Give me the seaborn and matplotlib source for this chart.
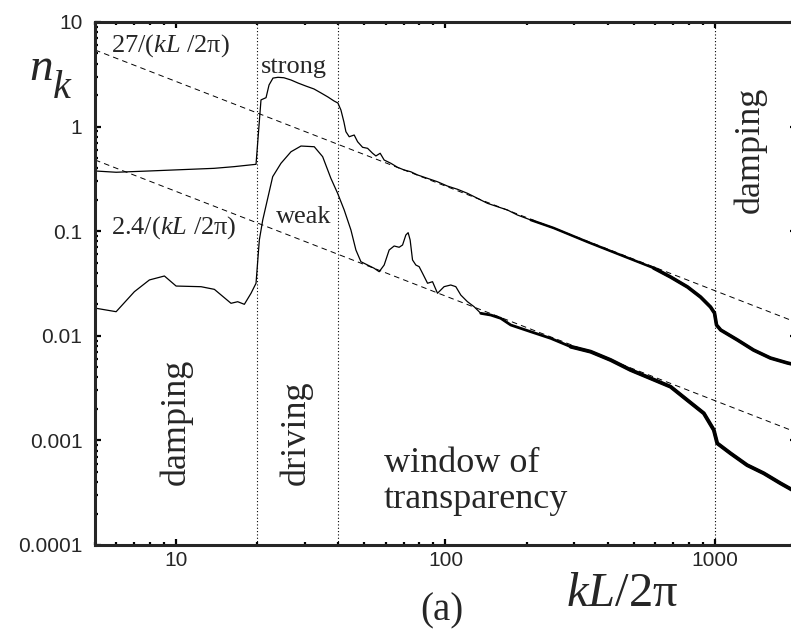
import numpy as np
import pandas as pd
import matplotlib
matplotlib.use("Agg")
import matplotlib.pyplot as plt
from matplotlib.ticker import LogLocator, NullFormatter, FixedLocator, FixedFormatter
import seaborn as sns

# ---------------- data ----------------
strong_k = [5.05, 5.99, 7.85, 13.83, 16.4, 19.8, 20.66, 21.57, 22.13, 22.89, 23.89, 25.14,
            26.70, 28.34, 30.34, 32.49, 34.48, 36.60, 38.53, 39.87, 40.91, 41.97, 42.69,
            43.91, 45.82, 47.17, 49.23, 51.38, 53.62, 55.16, 57.22, 59.20, 62.69, 66.37,
            70.22, 74.35, 78.73, 85.77, 93.39, 101.7, 110.8, 120.6, 131.4, 143.1, 155.9,
            169.8, 184.9, 207.2, 252.1, 337.1, 446.7, 592.0, 684.5, 791.4, 884.4, 963.2,
            996.6, 1014, 1051, 1213, 1391, 1607, 1858, 2000]
strong_n = [0.376, 0.366, 0.376, 0.399, 0.414, 0.436, 1.80, 1.89, 2.50, 2.91, 2.96, 2.93,
            2.79, 2.61, 2.44, 2.29, 2.10, 1.92, 1.76, 1.68, 1.44, 1.107, 0.894,
            0.80, 0.831, 0.717, 0.634, 0.620, 0.556, 0.524, 0.556, 0.479, 0.446, 0.408,
            0.385, 0.370, 0.345, 0.320, 0.297, 0.270, 0.2516, 0.2303, 0.2063, 0.1848, 0.1715,
            0.1595, 0.1428, 0.128, 0.1073, 0.0788, 0.0592, 0.0445, 0.0365, 0.0293, 0.0235, 0.01885,
            0.0165, 0.01268, 0.01136, 0.00912, 0.00731, 0.00613, 0.00550, 0.00526]

weak_k = [5.05, 5.99, 7.00, 7.96, 9.05, 10.0, 12.38, 13.87, 15.99, 16.93, 17.92, 18.97,
          19.80, 20.37, 20.97, 22.83, 24.51, 26.70, 29.08, 32.57, 34.99, 37.55, 39.78,
          42.07, 44.56, 46.50, 48.53, 51.38, 54.37, 56.74, 59.20, 61.78, 64.47, 67.30,
          69.28, 71.26, 72.67, 73.92, 75.44, 77.61, 79.83, 82.18, 85.77, 89.51, 93.39,
          98.81, 104.6, 109.2, 114.0, 120.6, 127.7, 135.2, 147.2, 160.3, 174.7, 207.2,
          245.7, 291.5, 345.7, 410.2, 486.4, 577.1, 684.5, 789.4, 909.6, 990.6, 1020,
          1142, 1317, 1518, 1751, 2000]
weak_n = [0.01832, 0.01700, 0.0264, 0.0342, 0.0373, 0.0299, 0.02947, 0.0278, 0.02045, 0.02118,
          0.0200, 0.02549, 0.03176, 0.0824, 0.128, 0.332, 0.446, 0.575, 0.652, 0.642, 0.516,
          0.320, 0.230, 0.1595, 0.1027, 0.0661, 0.0511, 0.0475, 0.0442, 0.0410, 0.0475,
          0.0661, 0.0722, 0.0702, 0.0738, 0.0920, 0.0968, 0.0824, 0.0531, 0.0475, 0.0458,
          0.0396, 0.0318, 0.0329, 0.0255, 0.0295, 0.0306, 0.0295, 0.0245, 0.0212, 0.01897,
          0.0164, 0.0158, 0.0147, 0.01268, 0.01094, 0.00946, 0.00787, 0.00705, 0.00587,
          0.00471, 0.00392, 0.00326, 0.00243, 0.001816, 0.001257, 0.000938, 0.000753,
          0.00058, 0.000485, 0.000389, 0.000321]

ref_coef = [27.0, 2.4]            # n_k = C / (kL/2pi)
ref_k = [5.0, 2000.0]
region_bounds = [20, 40, 1000]

xticks = [10, 100, 1000]
xtick_labels = ["10", "100", "1000"]
yticks = [1e-4, 1e-3, 1e-2, 1e-1, 1, 10]
ytick_labels = ["0.0001", "0.001", "0.01", "0.1", "1", "10"]

# ---------------- style ----------------
sns.set_style("ticks")
plt.rcParams["font.family"] = ["Liberation Sans", "DejaVu Sans"]
plt.rcParams["mathtext.fontset"] = "custom"
plt.rcParams["mathtext.it"] = "Liberation Serif:italic"
plt.rcParams["mathtext.rm"] = "Liberation Serif"
plt.rcParams["lines.scale_dashes"] = False

W, H = 791, 638
fig = plt.figure(figsize=(W / 100, H / 100), dpi=100)
ax = fig.add_axes([95 / W, 1 - 545 / H, 701 / W, 523 / H])
ax.set_xscale("log")
ax.set_yscale("log")

df_s = pd.DataFrame({"k": strong_k, "n": strong_n})
df_w = pd.DataFrame({"k": weak_k, "n": weak_n})

for df in (df_s, df_w):
    sns.lineplot(data=df, x="k", y="n", ax=ax, color="black", lw=0.9,
                 estimator=None, sort=False, legend=False)

# thicker overlay where the measured spectra are noisy
sns.lineplot(data=df_s[df_s.k >= 200], x="k", y="n", ax=ax, color="black", lw=1.8,
             estimator=None, sort=False, legend=False)
sns.lineplot(data=df_s[df_s.k >= 450], x="k", y="n", ax=ax, color="black", lw=2.6,
             estimator=None, sort=False, legend=False)
sns.lineplot(data=df_w[df_w.k >= 130], x="k", y="n", ax=ax, color="black", lw=2.0,
             estimator=None, sort=False, legend=False)
sns.lineplot(data=df_w[df_w.k >= 250], x="k", y="n", ax=ax, color="black", lw=2.8,
             estimator=None, sort=False, legend=False)

# reference power laws
kr = np.array(ref_k)
for c in ref_coef:
    ax.plot(kr, c / kr, color="black", lw=0.7, linestyle=(0, (4, 3)))

for b in region_bounds:
    ax.axvline(b, color="black", lw=0.8, linestyle=(0, (0.8, 1.6)))

ax.set_xlim(5, 2000)
ax.set_ylim(1e-4, 10)
ax.set_xlabel("")
ax.set_ylabel("")

ax.xaxis.set_major_locator(FixedLocator(xticks))
ax.xaxis.set_major_formatter(FixedFormatter(xtick_labels))
ax.yaxis.set_major_locator(FixedLocator(yticks))
ax.yaxis.set_major_formatter(FixedFormatter(ytick_labels))
ax.xaxis.set_minor_locator(LogLocator(base=10, subs=np.arange(2, 10)))
ax.yaxis.set_minor_locator(LogLocator(base=10, subs=np.arange(2, 10)))
ax.xaxis.set_minor_formatter(NullFormatter())
ax.yaxis.set_minor_formatter(NullFormatter())

for s in ax.spines.values():
    s.set_linewidth(2.2)
    s.set_visible(True)
ax.tick_params(which="both", direction="in", top=True, right=True, color="black")
ax.tick_params(which="major", length=4, width=1.6)
ax.tick_params(which="minor", length=2.4, width=1.6)
ax.tick_params(axis="y", which="major", pad=9, labelsize=15)
ax.tick_params(axis="x", which="major", pad=4, labelsize=15)

serif = ["Liberation Serif", "DejaVu Serif"]
ax.text(5.73, 5.2, "27/($kL$ /2π)", family=serif, fontsize=19, va="baseline")
ax.text(5.74, 0.0955, "2.4/($kL$ /2π)", family=serif, fontsize=19, va="baseline")
ax.text(20.66, 3.25, "strong", family=serif, fontsize=19, va="baseline")
ax.text(23.5, 0.1206, "weak", family=serif, fontsize=19, va="baseline")
ax.text(59.0, 0.000502, "window of", family=serif, fontsize=26, va="baseline")
ax.text(59.0, 0.000224, "transparency", family=serif, fontsize=26, va="baseline")
ax.text(10, 0.000375, "damping", family=serif, fontsize=26, rotation=90,
        ha="center", va="bottom")
ax.text(27.9, 0.000375, "driving", family=serif, fontsize=26, rotation=90,
        ha="center", va="bottom")
ax.text(1349, 0.149, "damping", family=serif, fontsize=26, rotation=90,
        ha="center", va="bottom")

# y-axis label n_k (large italic n with a large subscript k)
fig.text(29 / W, 1 - 80 / H, "n", family=serif, style="italic", fontsize=34,
         va="baseline", ha="left")
fig.text(53 / W, 1 - 98 / H, "k", family=serif, style="italic", fontsize=29,
         va="baseline", ha="left")
# x-axis label
fig.text(566 / W, 1 - 606 / H, "$kL$/2π", family=serif, fontsize=35,
         va="baseline", ha="left")
fig.text(442 / W, 1 - 620 / H, "(a)", family=serif, fontsize=28,
         va="baseline", ha="center")

fig.savefig("out.png", dpi=100)
